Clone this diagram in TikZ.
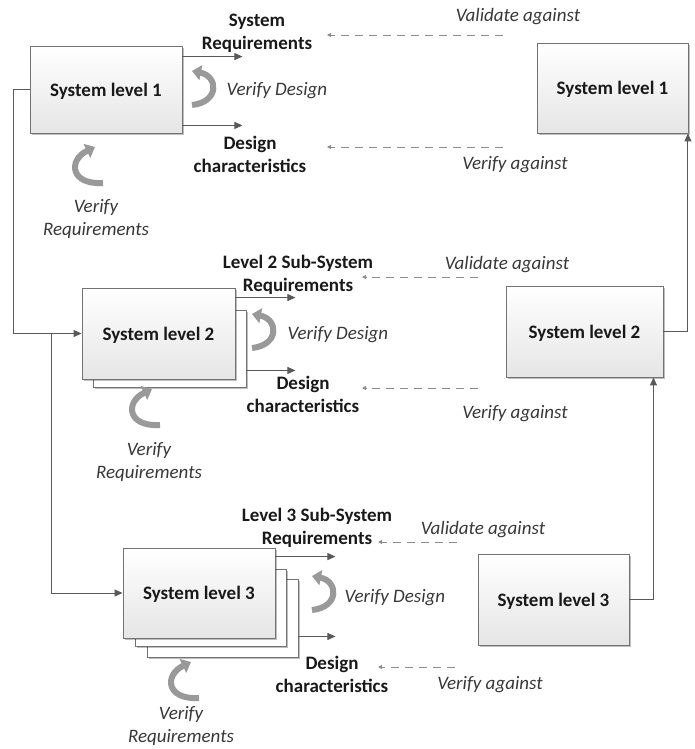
\documentclass[tikz,border=0pt]{standalone}
\usepackage{fontspec}
\setmainfont{Carlito}
\usetikzlibrary{arrows.meta,shadows,calc}
\begin{document}
\begin{tikzpicture}[x=1pt,y=-1pt,
  boxshadow/.style={drop shadow={shadow xshift=2pt,shadow yshift=-2pt,opacity=0.25,fill=black}},
  sysbox/.style={draw=black!55,line width=0.9pt,top color=white,bottom color=black!10,
    minimum width=152pt,minimum height=90pt,inner sep=0pt,boxshadow,text depth=0pt,
    font=\fontsize{19}{23}\selectfont\bfseries,text=black!90},
  backbox/.style={draw=black!55,line width=0.9pt,fill=white,inner sep=0pt,boxshadow},
  boldlbl/.style={font=\fontsize{19}{23}\selectfont\bfseries,text=black!90,align=center,inner sep=0pt,yshift=-2pt},
  itlbl/.style={font=\fontsize{19}{23}\selectfont\itshape,text=black!78,align=center,inner sep=0pt,yshift=-2pt},
  conn/.style={draw=black!65,line width=1pt,-{Triangle[length=8pt,width=7pt]}},
  dashconn/.style={draw=black!45,line width=0.9pt,dash pattern=on 8pt off 6pt,
    -{Triangle[length=4pt,width=4pt]}},
  curl/.style={draw=black!40,line width=6pt,-{Triangle[length=9pt,width=15pt]}},
  vdesign/.pic={\draw[curl] (-10,17) .. controls (18,14) and (16,-12) .. (-10,-17);},
  vreq/.pic={\draw[curl] (16,17) .. controls (-17,19) and (-19,-6) .. (8,-19);}
]
\useasboundingbox (0,0) rectangle (695,749);

% ---------- left column: design levels ----------
\node[sysbox,minimum width=152pt,minimum height=87pt] (L1) at (106,89.5) {System level 1};

\node[backbox,minimum width=153pt,minimum height=77pt] (L2b) at (169.5,348.5) {};
\node[sysbox,minimum width=153pt,minimum height=91pt] (L2) at (158.5,333.5) {System level 2};

\node[backbox,minimum width=151pt,minimum height=78pt] (L3c) at (222.5,618) {};
\node[backbox,minimum width=151pt,minimum height=77pt] (L3b) at (210.5,607.5) {};
\node[sysbox,minimum width=152pt,minimum height=90pt] (L3) at (199,593) {System level 3};

% ---------- right column: integration levels ----------
\node[sysbox,minimum width=151pt,minimum height=90pt] (R1) at (612.5,88) {System level 1};
\node[sysbox,minimum width=157pt,minimum height=91pt] (R2) at (584.5,331.5) {System level 2};
\node[sysbox,minimum width=151pt,minimum height=91pt] (R3) at (553.5,599.5) {System level 3};

% ---------- labels ----------
\node[boldlbl] (req1) at (257,31) {System\\Requirements};
\node[boldlbl] (dc1) at (250,152) {Design\\characteristics};
\node[itlbl] (vd1) at (277,89) {Verify Design};
\node[itlbl] (vr1) at (96,217) {Verify\\Requirements};
\node[itlbl] (val1) at (518,15) {Validate against};
\node[itlbl] (vag1) at (515,163) {Verify against};

\node[boldlbl] (req2) at (298,273) {Level 2 Sub-System\\Requirements};
\node[boldlbl] (dc2) at (303,392) {Design\\characteristics};
\node[itlbl] (vd2) at (338,333) {Verify Design};
\node[itlbl] (vr2) at (149,460) {Verify\\Requirements};
\node[itlbl] (val2) at (507,263) {Validate against};
\node[itlbl] (vag2) at (515,412) {Verify against};

\node[boldlbl] (req3) at (317,526) {Level 3 Sub-System\\Requirements};
\node[boldlbl] (dc3) at (332,672) {Design\\characteristics};
\node[itlbl] (vd3) at (395,596) {Verify Design};
\node[itlbl] (vr3) at (181,724) {Verify\\Requirements};
\node[itlbl] (val3) at (483,528) {Validate against};
\node[itlbl] (vag3) at (490,683) {Verify against};

% ---------- verification loops ----------
\pic at (202,88) {vdesign};
\pic at (262,331) {vdesign};
\pic at (322,593) {vdesign};
\pic at (87,166) {vreq};
\pic at (144,408) {vreq};
\pic at (183,681) {vreq};

% ---------- decomposition connectors ----------
\draw[conn] (L1.west) -- ++(-16,0) |- (L2.west);
\path (L2.west) ++(-30,0) coordinate (j2);
\draw[conn] (j2) |- (L3.west);

% ---------- integration connectors ----------
\draw[conn] (R3.east) -| ([xshift=-10pt]R2.south east);
\draw[conn] (R2.east) -| ([xshift=-0.5pt]R1.south east);

% ---------- outputs of each level ----------
\draw[conn] ([yshift=-11pt]L1.north east) -- ++(60,0) coordinate (o1r);
\draw[conn] ([yshift=8pt]L1.south east) -- ++(60,0) coordinate (o1d);
\draw[conn] ([yshift=-10pt]L2.north east) -- ++(60,0) coordinate (o2r);
\draw[conn] ([yshift=17pt]L2b.south east) -- ++(49,0) coordinate (o2d);
\draw[conn] ([yshift=-9pt]L3.north east) -- ++(60,0) coordinate (o3r);
\draw[conn] ([yshift=21pt]L3c.south east) -- ++(37,0) coordinate (o3d);

% ---------- validation / verification references ----------
\coordinate (a1s) at (503,35);  \coordinate (a1e) at (327,35);
\coordinate (b1s) at (503,147); \coordinate (b1e) at (327,147);
\coordinate (a2s) at (478,277); \coordinate (a2e) at (362,277);
\coordinate (b2s) at (478,388); \coordinate (b2e) at (362,388);
\coordinate (a3s) at (457,542); \coordinate (a3e) at (378,542);
\coordinate (b3s) at (455,667); \coordinate (b3e) at (378,667);
\draw[dashconn] (a1s) -- (a1e);
\draw[dashconn] (b1s) -- (b1e);
\draw[dashconn] (a2s) -- (a2e);
\draw[dashconn] (b2s) -- (b2e);
\draw[dashconn] (a3s) -- (a3e);
\draw[dashconn] (b3s) -- (b3e);
\end{tikzpicture}
\end{document}
